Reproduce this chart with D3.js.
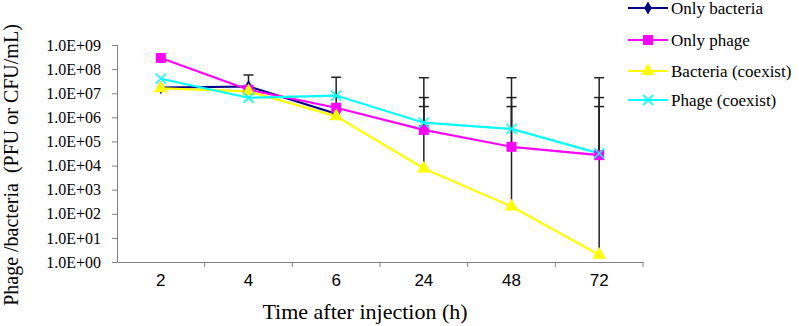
<!DOCTYPE html>
<html>
<head>
<meta charset="utf-8">
<script src="https://cdn.jsdelivr.net/npm/d3@7"></script>
<style>
  body { margin: 0; background: #fff; }
  svg { display: block; }
</style>
</head>
<body>
<div class="chart"></div>
<script>
const categories = ["2", "4", "6", "24", "48", "72"];
const yTicks = [1e0, 1e1, 1e2, 1e3, 1e4, 1e5, 1e6, 1e7, 1e8, 1e9];

const onlyBacteria = [1.7e7, 1.9e7, 1.4e6, null, null, null];
const onlyPhage = [2.9e8, 1.4e7, 2.5e6, 3.0e5, 6.0e4, 2.7e4];
const bacteriaCoexist = [1.6e7, 1.2e7, 1.1e6, 7.5e3, 2.0e2, 2.0];
const phageCoexist = [4.0e7, 6.5e6, 8.0e6, 6.0e5, 3.3e5, 3.2e4];

// upper ends of the error bars
const onlyBacteriaHi = [null, 5.7e7, 4.6e7, null, null, null];
const onlyPhageHi = [null, null, null, 6.6e6, 6.6e6, 6.6e6];
const bacteriaCoexistHi = [null, null, null, 4.4e7, 4.4e7, 4.4e7];
const phageCoexistHi = [null, null, null, 2.8e6, 2.8e6, 2.8e6];

const series = [
    {name: "Only bacteria", values: onlyBacteria, hi: onlyBacteriaHi, color: "#000080", symbol: d3.symbolDiamond, size: 50, stroke: false},
    {name: "Only phage", values: onlyPhage, hi: onlyPhageHi, color: "#ff00ff", symbol: d3.symbolSquare, size: 100, stroke: false},
    {name: "Bacteria (coexist)", values: bacteriaCoexist, hi: bacteriaCoexistHi, color: "#ffff00", symbol: d3.symbolTriangle, size: 80, stroke: false},
    {name: "Phage (coexist)", values: phageCoexist, hi: phageCoexistHi, color: "#00ffff", symbol: d3.symbolTimes, size: 70, stroke: true}
];

const margin = ({top: 45, left: 117});
const width = 526;
const height = 217;

const svg = d3.select('.chart').append('svg')
    .attr("width", 799)
    .attr("height", 326);

const plot = svg.append("g")
    .attr("transform", `translate(${margin.left},${margin.top})`);

const xScale = d3.scaleBand()
    .domain(categories)
    .range([0, width]);

const yScale = d3.scaleLog()
    .domain([1, 1e9])
    .range([height, 0]);

// y axis
const yAxis = plot.append("g")
    .call(d3.axisLeft(yScale)
        .tickValues(yTicks)
        .tickSize(5)
        .tickFormat(d => "1.0E+" + String(Math.round(Math.log10(d))).padStart(2, "0")));
yAxis.select(".domain").attr("stroke", "#808080").attr("d", `M0.5,0V${height}`);
yAxis.selectAll(".tick line").attr("stroke", "#808080");
yAxis.selectAll(".tick text")
    .attr("x", -16)
    .attr("font-family", "'Liberation Serif', 'Times New Roman', serif")
    .attr("font-size", "16px")
    .attr("fill", "#000");

// x axis, ticks between categories
const xAxis = plot.append("g")
    .attr("transform", `translate(0,${height})`)
    .call(d3.axisBottom(xScale).tickSize(0).tickPadding(12));
xAxis.select(".domain").attr("stroke", "#808080");
xAxis.selectAll(".tick text")
    .attr("font-family", "'Liberation Sans', Arial, sans-serif")
    .attr("font-size", "17px")
    .attr("fill", "#000");
xAxis.selectAll(".sep")
    .data(categories.slice(1).concat(["end"]))
    .enter().append("line")
    .attr("x1", (d, i) => xScale.step() * (i + 1))
    .attr("x2", (d, i) => xScale.step() * (i + 1))
    .attr("y1", 0)
    .attr("y2", 5)
    .attr("stroke", "#808080");

const cx = i => xScale(categories[i]) + xScale.bandwidth() / 2;

// error bars
series.forEach(s => {
    s.hi.forEach((h, i) => {
        if (h == null || s.values[i] == null) return;
        const g = plot.append("g").attr("stroke", "#222").attr("stroke-width", 1.5);
        g.append("line")
            .attr("x1", cx(i)).attr("x2", cx(i))
            .attr("y1", yScale(s.values[i])).attr("y2", yScale(h));
        g.append("line")
            .attr("x1", cx(i) - 5).attr("x2", cx(i) + 5)
            .attr("y1", yScale(h)).attr("y2", yScale(h));
    });
});

// lines
const line = d3.line()
    .defined(d => d != null)
    .x((d, i) => cx(i))
    .y(d => yScale(d));

series.forEach(s => {
    plot.append("path")
        .datum(s.values)
        .attr("fill", "none")
        .attr("stroke", s.color)
        .attr("stroke-width", 2.2)
        .attr("d", line);
});

// markers
series.forEach(s => {
    const sym = d3.symbol().type(s.symbol).size(s.size);
    s.values.forEach((v, i) => {
        if (v == null) return;
        const m = plot.append("path")
            .attr("d", sym())
            .attr("transform", `translate(${cx(i)},${yScale(v)})`);
        if (s.stroke) m.attr("fill", "none").attr("stroke", s.color).attr("stroke-width", 1.5);
        else m.attr("fill", s.color);
    });
});

// legend
const legend = svg.append("g").attr("transform", "translate(628,0)");
const rowY = [8, 40, 71, 100];
series.forEach((s, i) => {
    const g = legend.append("g").attr("transform", `translate(0,${rowY[i]})`);
    g.append("line")
        .attr("x1", 0).attr("x2", 40)
        .attr("stroke", s.color).attr("stroke-width", 2.2);
    const m = g.append("path")
        .attr("d", d3.symbol().type(s.symbol).size(s.size)())
        .attr("transform", "translate(20,0)");
    if (s.stroke) m.attr("fill", "none").attr("stroke", s.color).attr("stroke-width", 1.5);
    else m.attr("fill", s.color);
    g.append("text")
        .attr("x", 43)
        .attr("y", 6)
        .attr("font-family", "'Liberation Serif', 'Times New Roman', serif")
        .attr("font-size", "17px")
        .text(s.name);
});

// axis titles
svg.append("text")
    .attr("x", 365)
    .attr("y", 319)
    .attr("text-anchor", "middle")
    .attr("font-family", "'Liberation Serif', 'Times New Roman', serif")
    .attr("font-size", "22px")
    .text("Time after injection (h)");

svg.append("text")
    .attr("transform", "translate(18,165) rotate(-90)")
    .attr("text-anchor", "middle")
    .attr("font-family", "'Liberation Serif', 'Times New Roman', serif")
    .attr("font-size", "20px")
    .attr("xml:space", "preserve")
    .style("white-space", "pre")
    .text("Phage /bacteria  (PFU or CFU/mL)");
</script>
</body>
</html>
